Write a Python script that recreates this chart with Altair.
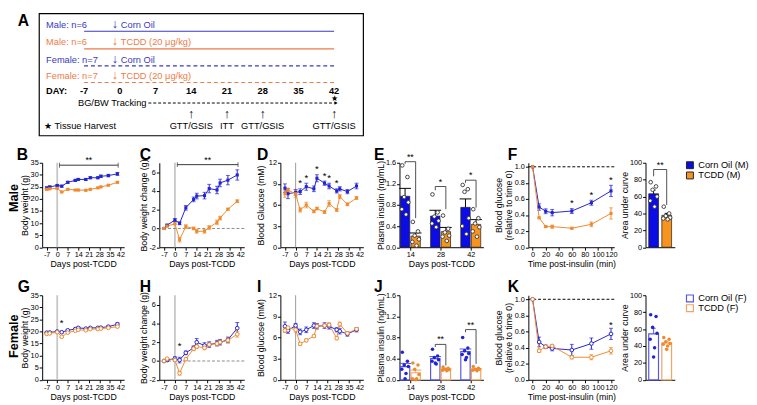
import altair as alt
import pandas as pd

FONT = "Liberation Sans"
GROUPS = ["Corn Oil", "TCDD"]
BLUE_M, ORANGE_M = "#2323d2", "#f08a2e"
BLUE_F, ORANGE_F = "#5656e2", "#f3a461"
BAR_BLUE, BAR_ORANGE = "#0c0ce4", "#f7931f"
DOT_BLUE, DOT_ORANGE = "#1818c8", "#f39232"
A_BLUE, A_ORANGE = "#3838c4", "#ee7b49"

# ---------------- Panel A (study design) ----------------
a_cohorts = ["Male: n=6", "Male: n=6", "Female: n=7", "Female: n=7"]
a_treat = ["Corn Oil", "TCDD (20 μg/kg)", "Corn Oil", "TCDD (20 μg/kg)"]
a_colors = [A_BLUE, A_ORANGE, A_BLUE, A_ORANGE]
a_dashed = [False, False, True, True]
a_span = [-7, 42]
a_dose_day = 0
a_days = [-7, 0, 7, 14, 21, 28, 35, 42]
a_track = [5.6, 42.4]
a_test_days = [14, 21, 28, 42]
a_test_labels = ["GTT/GSIS", "ITT", "GTT/GSIS", "GTT/GSIS"]
a_harvest_day = 42

# ---------------- time courses ----------------
days = [-7, -5, 0, 3, 7, 12, 14, 19, 22, 27, 29, 34, 40]
day_ticks = [-7, 0, 7, 14, 21, 28, 35, 42]

bw_m_co = [24.6, 25.0, 25.6, 25.3, 26.9, 27.7, 28.1, 28.1, 28.8, 28.8, 29.4, 29.7, 30.4]
bw_m_co_sem = [0.4, 0.4, 0.4, 0.4, 0.4, 0.4, 0.4, 0.4, 0.4, 0.4, 0.5, 0.5, 0.6]
bw_m_tc = [24.0, 24.2, 24.4, 22.9, 24.0, 23.7, 23.7, 23.6, 24.0, 24.6, 25.0, 25.7, 26.9]
bw_m_tc_sem = [0.3, 0.3, 0.3, 0.3, 0.3, 0.2, 0.3, 0.3, 0.3, 0.3, 0.3, 0.3, 0.3]

dbw_m_co = [0, 0.35, 0.9, 0.55, 2.2, 3.1, 3.45, 3.5, 4.25, 4.1, 4.85, 5.15, 5.7]
dbw_m_co_sem = [0, 0.1, 0.15, 0.15, 0.25, 0.25, 0.3, 0.35, 0.45, 0.4, 0.4, 0.5, 0.55]
dbw_m_tc = [0, 0.25, 0.5, -1.2, 0.2, 0.0, -0.3, -0.3, 0.1, 0.65, 1.1, 2.05, 2.9]
dbw_m_tc_sem = [0, 0.1, 0.1, 0.25, 0.2, 0.15, 0.2, 0.2, 0.2, 0.25, 0.2, 0.1, 0.15]

bg_m_co = [8.4, 7.6, 7.8, 7.9, 8.6, 8.3, 9.8, 9.1, 8.7, 8.0, 8.3, 7.9, 8.7]
bg_m_co_sem = [0.6, 0.7, 0.4, 0.4, 0.5, 0.4, 0.5, 0.3, 0.4, 0.3, 0.3, 0.3, 0.4]
bg_m_tc = [7.6, 8.1, 7.6, 5.3, 6.0, 5.1, 5.5, 5.0, 6.2, 5.3, 7.2, 6.1, 7.0]
bg_m_tc_sem = [0.5, 0.3, 0.5, 0.3, 0.4, 0.2, 0.2, 0.2, 0.4, 0.2, 0.3, 0.2, 0.2]

bw_f_co = [19.5, 19.6, 20.0, 19.7, 20.5, 21.0, 21.5, 21.2, 21.5, 21.5, 21.6, 22.0, 23.0]
bw_f_co_sem = [0.3, 0.3, 0.3, 0.3, 0.3, 0.3, 0.4, 0.3, 0.3, 0.3, 0.3, 0.4, 0.6]
bw_f_tc = [19.0, 19.2, 19.7, 17.8, 19.5, 20.3, 20.7, 20.5, 21.0, 21.0, 21.2, 21.5, 22.0]
bw_f_tc_sem = [0.3, 0.3, 0.3, 0.3, 0.3, 0.3, 0.3, 0.3, 0.3, 0.3, 0.3, 0.3, 0.4]

dbw_f_co = [0, 0.1, 0.25, 0.1, 0.87, 1.4, 2.0, 1.65, 1.75, 1.9, 2.0, 2.25, 3.5]
dbw_f_co_sem = [0, 0.15, 0.2, 0.3, 0.2, 0.2, 0.4, 0.3, 0.3, 0.3, 0.3, 0.3, 0.6]
dbw_f_tc = [0, 0.25, 0.1, -1.3, 0.2, 1.3, 1.55, 1.4, 1.75, 1.85, 2.0, 2.2, 2.85]
dbw_f_tc_sem = [0, 0.1, 0.15, 0.2, 0.15, 0.2, 0.2, 0.2, 0.2, 0.2, 0.2, 0.3, 0.3]

bg_f_co = [7.6, 7.0, 7.7, 6.8, 7.1, 7.7, 7.6, 7.7, 7.6, 7.1, 6.9, 6.5, 7.1]
bg_f_co_sem = [0.6, 0.4, 0.3, 0.4, 0.4, 0.4, 0.4, 0.4, 0.4, 0.3, 0.4, 0.3, 0.3]
bg_f_tc = [7.0, 7.4, 7.1, 5.1, 5.6, 6.2, 7.6, 7.7, 7.8, 5.9, 7.9, 6.6, 7.2]
bg_f_tc_sem = [0.3, 0.2, 0.3, 0.2, 0.2, 0.2, 0.3, 0.2, 0.3, 0.2, 0.3, 0.2, 0.2]

# ---------------- insulin tolerance ----------------
itt_min = [0, 10, 20, 30, 60, 90, 120]
itt_ticks = [0, 20, 40, 60, 80, 100, 120]
itt_m_co = [1.0, 0.50, 0.447, 0.43, 0.45, 0.553, 0.70]
itt_m_co_sem = [0, 0.04, 0.03, 0.04, 0.03, 0.03, 0.07]
itt_m_tc = [1.0, 0.366, 0.256, 0.256, 0.236, 0.285, 0.42]
itt_m_tc_sem = [0, 0.01, 0.01, 0.02, 0.01, 0.03, 0.07]
itt_f_co = [1.0, 0.47, 0.41, 0.39, 0.37, 0.45, 0.57]
itt_f_co_sem = [0, 0.06, 0.02, 0.03, 0.07, 0.07, 0.07]
itt_f_tc = [1.0, 0.36, 0.41, 0.42, 0.28, 0.28, 0.36]
itt_f_tc_sem = [0, 0.02, 0.02, 0.02, 0.02, 0.03, 0.04]

# ---------------- plasma insulin (GSIS) ----------------
ins_days = ["14", "28", "42"]
ins_m_co = [0.965, 0.59, 0.755]
ins_m_co_sem = [0.15, 0.11, 0.16]
ins_m_tc = [0.21, 0.295, 0.433]
ins_m_tc_sem = [0.06, 0.08, 0.09]
ins_m_co_pts = [[1.55, 1.33, 0.95, 0.85, 0.72, 0.62], [1.0, 0.66, 0.58, 0.5, 0.45, 0.38],
                [1.18, 1.1, 1.05, 0.55, 0.4, 0.25]]
ins_m_tc_pts = [[0.48, 0.3, 0.22, 0.15, 0.1, 0.03], [0.6, 0.35, 0.28, 0.22, 0.2, 0.12],
                [0.72, 0.55, 0.45, 0.38, 0.3, 0.2]]
ins_f_co = [0.25, 0.40, 0.533]
ins_f_co_sem = [0.06, 0.04, 0.05]
ins_f_tc = [0.134, 0.20, 0.20]
ins_f_tc_sem = [0.05, 0.01, 0.01]
ins_f_co_pts = [[0.52, 0.35, 0.28, 0.25, 0.2, 0.12, 0.02], [0.58, 0.45, 0.42, 0.38, 0.35, 0.3, 0.32],
                [0.8, 0.6, 0.55, 0.5, 0.48, 0.42, 0.38]]
ins_f_tc_pts = [[0.32, 0.28, 0.2, 0.1, 0.02, 0.02, 0.0], [0.24, 0.22, 0.2, 0.19, 0.18, 0.17, 0.2],
                [0.25, 0.22, 0.2, 0.2, 0.18, 0.17, 0.19]]

# ---------------- ITT area under curve ----------------
auc_cat = ["AUC"]
auc_m_co, auc_m_co_sem = [63.3], [4.4]
auc_m_tc, auc_m_tc_sem = [37.8], [2.3]
auc_m_co_pts = [[77, 72, 68, 60, 55, 48]]
auc_m_tc_pts = [[48, 40, 37, 35, 34, 33]]
auc_f_co, auc_f_co_sem = [54.4], [6.5]
auc_f_tc, auc_f_tc_sem = [43.6], [2.0]
auc_f_co_pts = [[77, 75, 62, 55, 48, 38, 27]]
auc_f_tc_pts = [[50, 48, 45, 43, 42, 40, 36]]

JITTER = [-0.3, 0.25, -0.1, 0.35, -0.35, 0.1, 0.0]
LETTER_Y = -16


def label(text, x, y, **mk):
    return alt.Chart(pd.DataFrame({"t": [text]})).mark_text(**mk).encode(
        text="t:N", x=alt.value(x), y=alt.value(y))


def letter(ch, dx):
    return label(ch, dx, LETTER_Y, align="left", baseline="top", fontSize=16, fontWeight="bold")


def yaxis(title, values, fmt, ext):
    kw = {"labelExpr": "'' + datum.value"} if fmt == "d" else {"format": fmt}
    return alt.Axis(title=title, values=values, minExtent=ext, maxExtent=ext,
                    titlePadding=0, labelOverlap=False, **kw)


def xaxis(title, values, **kw):
    kw.setdefault("labelExpr", "'' + datum.value")
    return alt.Axis(title=title, values=values, labelFlush=False, labelOverlap=False,
                    titlePadding=1.5, **kw)


def line_panel(xv, co, co_s, tc, tc_s, w, h, xdom, xticks, xtitle, ydom, yticks, yfmt,
               ytitle, yext, female, ch, ch_dx, vline=None, hline=None, sig=None,
               stars=None, rowlabel=None):
    cb, cor = (BLUE_F, ORANGE_F) if female else (BLUE_M, ORANGE_M)
    rows = []
    for g, m, s in ((GROUPS[0], co, co_s), (GROUPS[1], tc, tc_s)):
        for x, mv, sv in zip(xv, m, s):
            rows.append({"x": x, "m": mv, "lo": mv - sv, "hi": mv + sv, "s": sv, "g": g})
    df = pd.DataFrame(rows)
    xs = alt.Scale(domain=xdom, nice=False, zero=False)
    ys = alt.Scale(domain=ydom, nice=False, zero=False)
    xax = xaxis(xtitle, xticks)
    yax = yaxis(ytitle, yticks, yfmt, yext)

    def X(f):
        return alt.X(f, scale=xs, axis=xax)

    def Y(f):
        return alt.Y(f, scale=ys, axis=yax)

    col = alt.Color("g:N", scale=alt.Scale(domain=GROUPS, range=[cb, cor]), legend=None)
    layers = [alt.Chart(df).mark_line(strokeWidth=1, opacity=0).encode(
        x=X("x:Q"), y=Y("m:Q"), color=col)]
    if vline is not None:
        layers.append(alt.Chart(pd.DataFrame({"x": [vline[0]]})).mark_rule(
            color=vline[1], strokeWidth=vline[2]).encode(x=X("x:Q")))
    if hline is not None:
        layers.append(alt.Chart(pd.DataFrame({"m": [hline[0]]})).mark_rule(
            color=hline[1], strokeDash=[3, 2], strokeWidth=1).encode(y=Y("m:Q")))
    eb = df[df.s > 0]
    layers.append(alt.Chart(eb).mark_rule(strokeWidth=1).encode(
        x=X("x:Q"), y=Y("lo:Q"), y2="hi:Q", color=col))
    caps = pd.concat([eb.assign(c=eb.lo), eb.assign(c=eb.hi)])
    layers.append(alt.Chart(caps).mark_tick(orient="horizontal", size=4, thickness=1).encode(
        x=X("x:Q"), y=Y("c:Q"), color=col))
    layers.append(alt.Chart(df).mark_line(strokeWidth=1).encode(
        x=X("x:Q"), y=Y("m:Q"), color=col))
    if female:
        pts = alt.Chart(df).mark_point(shape="circle", filled=False, fill="white", size=14,
                                       strokeWidth=1, opacity=1)
    else:
        pts = alt.Chart(df).mark_point(shape="square", filled=True, size=10, opacity=1)
    layers.append(pts.encode(x=X("x:Q"), y=Y("m:Q"), color=col))
    if sig is not None:
        x1, x2, yv, lab = sig
        sdf = pd.DataFrame({"x": [x1], "x2": [x2], "m": [yv], "xm": [(x1 + x2) / 2], "t": [lab]})
        layers.append(alt.Chart(sdf).mark_rule(color="black", strokeWidth=0.8).encode(
            x=X("x:Q"), x2="x2:Q", y=Y("m:Q")))
        ends = pd.DataFrame({"x": [x1, x2], "m": [yv, yv]})
        layers.append(alt.Chart(ends).mark_tick(orient="vertical", size=5, thickness=0.8,
                                                color="black").encode(x=X("x:Q"), y=Y("m:Q")))
        layers.append(alt.Chart(sdf).mark_text(baseline="bottom", fontSize=9).encode(
            x=X("xm:Q"), y=Y("m:Q"), text="t:N"))
    if stars is not None:
        idx, pad = stars
        sdf = pd.DataFrame({"x": [xv[i] for i in idx], "m": [co[i] + co_s[i] + pad for i in idx]})
        layers.append(alt.Chart(sdf).mark_text(text="*", fontSize=10, baseline="middle").encode(
            x=X("x:Q"), y=Y("m:Q")))
    layers.append(letter(ch, ch_dx))
    if rowlabel is not None:
        layers.append(label(rowlabel[0], -35, rowlabel[1], angle=270, baseline="top",
                            align="center", fontSize=13, fontWeight="bold"))
    return alt.layer(*layers).properties(width=w, height=h)


def bar_panel(cats, co_m, co_s, tc_m, tc_s, co_pts, tc_pts, w, h, xdom, offs, ydom, yticks,
              yfmt, ytitle, yext, female, ch=None, ch_dx=0, brackets=None, xtitle=None,
              legend=None):
    co_start, tc_start, bw = offs
    cap_half = 0.07 * (xdom[1] - xdom[0])
    rows, prow = [], []
    for i, c in enumerate(cats):
        for g, m, s, pts, st in ((GROUPS[0], co_m, co_s, co_pts, co_start),
                                 (GROUPS[1], tc_m, tc_s, tc_pts, tc_start)):
            x1 = i + st
            xc = x1 + bw / 2
            rows.append({"c": c, "g": g, "m": m[i], "base": 0, "hi": m[i] + s[i], "x": x1,
                         "x2": x1 + bw, "xc": xc, "cl": xc - cap_half, "cr": xc + cap_half})
            for k, v in enumerate(pts[i]):
                prow.append({"g": g, "m": v, "x": xc + JITTER[k] * bw})
    df, pdf = pd.DataFrame(rows), pd.DataFrame(prow)
    xs = alt.Scale(domain=xdom, nice=False, zero=False)
    ys = alt.Scale(domain=ydom, nice=False, zero=False)
    if len(cats) > 1:
        expr = "[" + ",".join("'%s'" % c for c in cats) + "][datum.value]"
        xax = xaxis(xtitle, list(range(len(cats))), labelExpr=expr)
    else:
        xax = alt.Axis(title=None, labels=False, ticks=False)
    yax = yaxis(ytitle, yticks, yfmt, yext)

    def X(f):
        return alt.X(f, scale=xs, axis=xax)

    def Y(f):
        return alt.Y(f, scale=ys, axis=yax)

    cb, cor = (BLUE_F, ORANGE_F) if female else (BAR_BLUE, BAR_ORANGE)
    sc = alt.Scale(domain=GROUPS, range=[cb, cor])
    layers = []
    if female:
        scol = alt.Stroke("g:N", scale=sc, legend=None)
        layers.append(alt.Chart(df).mark_rect(fill="white", strokeWidth=1.2).encode(
            x=X("x:Q"), x2="x2:Q", y=Y("m:Q"), y2="base:Q", stroke=scol))
        layers.append(alt.Chart(df).mark_rule(strokeWidth=1).encode(
            x=X("xc:Q"), y=Y("m:Q"), y2="hi:Q", stroke=scol))
        layers.append(alt.Chart(df).mark_rule(strokeWidth=1).encode(
            x=X("cl:Q"), x2="cr:Q", y=Y("hi:Q"), stroke=scol))
        dsc = alt.Scale(domain=GROUPS, range=[DOT_BLUE, DOT_ORANGE])
        layers.append(alt.Chart(pdf).mark_point(filled=True, size=13, opacity=1).encode(
            x=X("x:Q"), y=Y("m:Q"), color=alt.Color("g:N", scale=dsc, legend=None)))
    else:
        layers.append(alt.Chart(df).mark_rect(stroke="#1a1a1a", strokeWidth=0.7).encode(
            x=X("x:Q"), x2="x2:Q", y=Y("m:Q"), y2="base:Q",
            fill=alt.Fill("g:N", scale=sc, legend=None)))
        layers.append(alt.Chart(df).mark_rule(strokeWidth=1, color="black").encode(
            x=X("xc:Q"), y=Y("m:Q"), y2="hi:Q"))
        layers.append(alt.Chart(df).mark_rule(strokeWidth=1, color="black").encode(
            x=X("cl:Q"), x2="cr:Q", y=Y("hi:Q")))
        layers.append(alt.Chart(pdf).mark_point(filled=False, fill="white", stroke="#333",
                                                size=14, strokeWidth=0.9, opacity=1).encode(
            x=X("x:Q"), y=Y("m:Q")))
    if brackets is not None:
        b_rows, l_rows = [], []
        for pos, top, llow, rlow, lab in brackets:
            xl = pos + co_start + bw / 2
            xr = pos + tc_start + bw / 2
            b_rows.append({"x": xl, "x2": xr, "xm": (xl + xr) / 2, "m": top, "t": lab})
            l_rows.append({"x": xl, "lo": llow, "m": top})
            l_rows.append({"x": xr, "lo": rlow, "m": top})
        bdf, ldf = pd.DataFrame(b_rows), pd.DataFrame(l_rows)
        layers.append(alt.Chart(bdf).mark_rule(color="#222", strokeWidth=0.8).encode(
            x=X("x:Q"), x2="x2:Q", y=Y("m:Q")))
        layers.append(alt.Chart(ldf).mark_rule(color="#222", strokeWidth=0.8).encode(
            x=X("x:Q"), y=Y("lo:Q"), y2="m:Q"))
        layers.append(alt.Chart(bdf).mark_text(baseline="bottom", fontSize=9).encode(
            x=X("xm:Q"), y=Y("m:Q"), text="t:N"))
    if legend is not None:
        lx, ly0, dy, suffix = legend
        for k, g in enumerate(GROUPS):
            ldf = pd.DataFrame({"g": [g], "t": ["%s (%s)" % (g, suffix)]})
            if female:
                sym = alt.Chart(ldf).mark_point(shape="square", filled=False, fill="white",
                                                size=50, strokeWidth=1.2, opacity=1).encode(
                    stroke=alt.Stroke("g:N", scale=sc, legend=None))
            else:
                sym = alt.Chart(ldf).mark_point(shape="square", filled=True, size=50,
                                                stroke="#222", strokeWidth=1, opacity=1).encode(
                    fill=alt.Fill("g:N", scale=sc, legend=None))
            layers.append(sym.encode(x=alt.value(lx), y=alt.value(ly0 + k * dy)))
            layers.append(alt.Chart(ldf).mark_text(align="left", baseline="middle",
                                                   fontSize=9.5).encode(
                text="t:N", x=alt.value(lx + 8.5), y=alt.value(ly0 + k * dy)))
    if ch is not None:
        layers.append(letter(ch, ch_dx))
    return alt.layer(*layers).properties(width=w, height=h)


def spacer(w, h):
    return alt.Chart(pd.DataFrame({"z": [0]})).mark_point(opacity=0, size=1).encode(
        x=alt.value(0), y=alt.value(0)).properties(width=w, height=h)


# ---------------- Panel A chart ----------------
A_W, A_H = 332, 125
A_TEXT_Y = [11.5, 29.5, 47, 64]
A_LINE_Y = [18, 36, 53.5, 70.5]
A_DAY_Y, A_TRACK_Y, A_STAR_Y, A_ARROW_Y, A_LAB_Y = 79.5, 91.5, 87, 102.5, 115
axs = alt.Scale(domain=[-15.8, 47.74], nice=False, zero=False)


def AX(f):
    return alt.X(f, scale=axs, axis=None)


A_layers = [alt.Chart(pd.DataFrame({"z": [0]})).mark_rect(
    fill="transparent", stroke="black", strokeWidth=1.2).encode(
    x=alt.value(0), x2=alt.value(A_W), y=alt.value(0), y2=alt.value(A_H))]
for i in range(4):
    A_layers.append(label(a_cohorts[i], 7, A_TEXT_Y[i], color=a_colors[i], fontSize=9.5,
                          align="left", baseline="middle"))
    dd = pd.DataFrame({"d": [a_dose_day], "t": [a_treat[i]]})
    A_layers.append(alt.Chart(dd).mark_text(
        text="↓", baseline="middle", dx=-5, dy=-1, fontSize=13, color=a_colors[i]).encode(
        x=AX("d:Q"), y=alt.value(A_TEXT_Y[i])))
    A_layers.append(alt.Chart(dd).mark_text(
        align="left", baseline="middle", dx=1, fontSize=9.5, color=a_colors[i]).encode(
        x=AX("d:Q"), y=alt.value(A_TEXT_Y[i]), text="t:N"))
    mk = dict(color=a_colors[i], strokeWidth=1.2)
    if a_dashed[i]:
        mk["strokeDash"] = [4, 3]
    A_layers.append(alt.Chart(pd.DataFrame({"d0": [a_span[0]], "d1": [a_span[1]]})).mark_rule(
        **mk).encode(x=AX("d0:Q"), x2="d1:Q", y=alt.value(A_LINE_Y[i])))
A_layers.append(label("DAY:", 7, A_DAY_Y, align="left", baseline="middle", fontSize=9.5,
                      fontWeight="bold"))
A_layers.append(alt.Chart(pd.DataFrame({"d": a_days, "t": [str(d) for d in a_days]})).mark_text(
    baseline="middle", fontSize=9.5, fontWeight="bold").encode(
    x=AX("d:Q"), y=alt.value(A_DAY_Y), text="t:N"))
trk = pd.DataFrame({"d0": [a_track[0]], "d1": [a_track[1]], "t": ["BG/BW Tracking"]})
A_layers.append(alt.Chart(trk).mark_text(align="right", baseline="middle", dx=-2, fontSize=9.5).encode(
    x=AX("d0:Q"), y=alt.value(A_TRACK_Y), text="t:N"))
A_layers.append(alt.Chart(trk).mark_rule(color="black", strokeDash=[3, 2], strokeWidth=1).encode(
    x=AX("d0:Q"), x2="d1:Q", y=alt.value(A_TRACK_Y)))
A_layers.append(alt.Chart(trk).mark_point(shape="triangle-right", filled=True, color="black",
                                          size=14, opacity=1).encode(
    x=AX("d1:Q"), y=alt.value(A_TRACK_Y)))
A_layers.append(alt.Chart(pd.DataFrame({"d": [a_harvest_day]})).mark_text(
    text="★", fontSize=8, baseline="middle").encode(x=AX("d:Q"), y=alt.value(A_STAR_Y)))
tst = pd.DataFrame({"d": a_test_days, "t": a_test_labels})
A_layers.append(alt.Chart(tst).mark_text(text="↑", fontSize=13, baseline="middle").encode(
    x=AX("d:Q"), y=alt.value(A_ARROW_Y)))
A_layers.append(alt.Chart(tst).mark_text(baseline="middle", fontSize=9.5).encode(
    x=AX("d:Q"), y=alt.value(A_LAB_Y), text="t:N"))
A_layers.append(label("★ Tissue Harvest", 5, A_LAB_Y, align="left", baseline="middle",
                      fontSize=9.5))
A_layers.append(label("A", -22, 0, align="left", baseline="top", fontSize=16, fontWeight="bold"))
A = alt.layer(*A_layers).properties(width=A_W, height=A_H)

# ---------------- rows ----------------
H1, H2 = 86.5, 86.6
DX = [-10, 44.5]
VL_LIGHT = (0, "#c6c6c6", 1.8)
VL_THIN = (0, "#9a9a9a", 1)
TITLE_D = "Days post-TCDD"
AUC_OFFS = (0.33, 1.67, 1.0)

B = line_panel(days, bw_m_co, bw_m_co_sem, bw_m_tc, bw_m_tc_sem, 84, H1, DX, day_ticks, TITLE_D,
               [0, 35], [0, 5, 10, 15, 20, 25, 30, 35], "d", "Body weight (g)", 13, False, "B", -26,
               vline=VL_LIGHT, sig=(1.5, 40.5, 34, "**"), rowlabel=("Male", 36))
C = line_panel(days, dbw_m_co, dbw_m_co_sem, dbw_m_tc, dbw_m_tc_sem, 87, H1, DX, day_ticks, TITLE_D,
               [-2, 7], [-2, 0, 2, 4, 6], "d", "Body weight change (g)", 11.5, False, "C", -20,
               vline=VL_LIGHT, hline=(0, "#888888"), sig=(1.5, 40.5, 6.8, "**"))
D = line_panel(days, bg_m_co, bg_m_co_sem, bg_m_tc, bg_m_tc_sem, 85, H1, DX, day_ticks, TITLE_D,
               [0, 12], [0, 3, 6, 9, 12], "d", "Blood Glucose (mM)", 15, False, "D", -24,
               vline=VL_THIN, stars=([3, 4, 6, 7, 8, 9], 0.75))
E = bar_panel(ins_days, ins_m_co, ins_m_co_sem, ins_m_tc, ins_m_tc_sem, ins_m_co_pts, ins_m_tc_pts,
              86, H1, [-0.36, 2.42], (-0.33, 0.02, 0.31), [0, 1.6], [0, 0.4, 0.8, 1.2, 1.6], ".1f",
              "Plasma insulin (ng/mL)", 14, False, "E", -26,
              brackets=[(0, 1.62, 1.58, 0.55, "**"), (1, 1.15, 1.08, 0.72, "*"),
                        (2, 1.27, 1.22, 0.75, "*")], xtitle=TITLE_D)
F = line_panel(itt_min, itt_m_co, itt_m_co_sem, itt_m_tc, itt_m_tc_sem, 88, H1, [-6.5, 125],
               itt_ticks, "Time post-insulin (min)", [0, 1.05], [0, 0.2, 0.4, 0.6, 0.8, 1.0], ".1f",
               ["Blood glucose", "(relative to time 0)"], 15, False, "F", -21,
               hline=(1.0, "black"), stars=([4, 5, 6], 0.07))
AUCM = bar_panel(auc_cat, auc_m_co, auc_m_co_sem, auc_m_tc, auc_m_tc_sem, auc_m_co_pts, auc_m_tc_pts,
                 30, H1, [0, 3], AUC_OFFS, [0, 100], [0, 20, 40, 60, 80, 100], "d",
                 "Area under curve", 16, False, brackets=[(0, 92, 84, 50, "**")],
                 legend=(45.5, 2.5, 10.5, "M"))

G = line_panel(days, bw_f_co, bw_f_co_sem, bw_f_tc, bw_f_tc_sem, 84, H2, DX, day_ticks, TITLE_D,
               [0, 35], [0, 5, 10, 15, 20, 25, 30, 35], "d", "Body weight (g)", 13, True, "G", -25,
               vline=VL_LIGHT, stars=([3], 3.5), rowlabel=("Female", 42))
Hh = line_panel(days, dbw_f_co, dbw_f_co_sem, dbw_f_tc, dbw_f_tc_sem, 87, H2, DX, day_ticks, TITLE_D,
                [-2, 7], [-2, 0, 2, 4, 6], "d", "Body weight change (g)", 11.5, True, "H", -20,
                vline=VL_LIGHT, hline=(0, "#888888"), stars=([3], 1.15))
I = line_panel(days, bg_f_co, bg_f_co_sem, bg_f_tc, bg_f_tc_sem, 85, H2, DX, day_ticks, TITLE_D,
               [0, 12], [0, 3, 6, 9, 12], "d", "Blood glucose (mM)", 15, True, "I", -24,
               vline=VL_THIN)
J = bar_panel(ins_days, ins_f_co, ins_f_co_sem, ins_f_tc, ins_f_tc_sem, ins_f_co_pts, ins_f_tc_pts,
              86, H2, [-0.36, 2.42], (-0.33, 0.02, 0.31), [0, 1.6], [0, 0.4, 0.8, 1.2, 1.6], ".1f",
              "Plasma insulin (ng/mL)", 14, True, "J", -26,
              brackets=[(1, 0.67, 0.62, 0.27, "**"), (2, 0.95, 0.9, 0.3, "**")], xtitle=TITLE_D)
K = line_panel(itt_min, itt_f_co, itt_f_co_sem, itt_f_tc, itt_f_tc_sem, 88, H2, [-6.5, 125],
               itt_ticks, "Time post-insulin (min)", [0, 1.05], [0, 0.2, 0.4, 0.6, 0.8, 1.0], ".1f",
               ["Blood glucose", "(relative to time 0)"], 15, True, "K", -21,
               hline=(1.0, "black"), stars=([6], 0.04))
AUCF = bar_panel(auc_cat, auc_f_co, auc_f_co_sem, auc_f_tc, auc_f_tc_sem, auc_f_co_pts, auc_f_tc_pts,
                 30, H2, [0, 3], AUC_OFFS, [0, 100], [0, 20, 40, 60, 80, 100], "d",
                 "Area under curve", 16, True, legend=(45.5, 3.3, 10, "F"))

row1 = alt.hconcat(spacer(3, H1), B, spacer(36, H1), C, spacer(37, H1), D, spacer(37, H1), E,
                   spacer(46, H1), F, spacer(32, H1), AUCM, spacing=0, bounds="flush")
row2 = alt.hconcat(spacer(3, H2), G, spacer(36, H2), Hh, spacer(37, H2), I, spacer(37, H2), J,
                   spacer(46, H2), K, spacer(32, H2), AUCF, spacing=0, bounds="flush")

chart = alt.vconcat(A, row1, row2, spacing=10.7).properties(padding=0)
chart = chart.configure(font=FONT).configure_view(stroke=None).configure_axis(
    domainColor="black", domainWidth=1, tickColor="black", tickSize=3, tickWidth=1,
    labelFontSize=7.5, labelColor="black", labelPadding=1, titleFontSize=9,
    titleFontWeight="normal", titleColor="black", grid=False, titleLineHeight=10)

chart.save("out.html", embed_options={"renderer": "svg", "actions": False})
